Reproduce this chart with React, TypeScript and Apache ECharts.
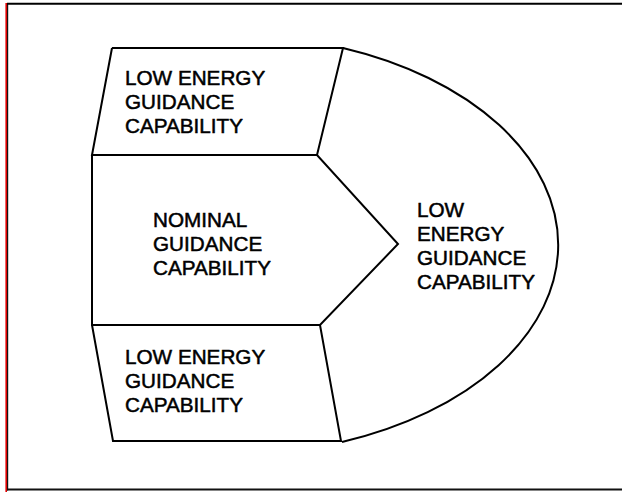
import React, { useEffect, useRef } from "react";
import * as echarts from "echarts";

// Diagram vertices (in picture units, y downward)
const topBox = [[112, 48], [343, 48], [317, 155], [92, 155], [112, 48]];
const nominalBox = [[92, 155], [317, 155], [398, 244], [320, 325], [92, 325], [92, 155]];
const bottomBox = [[92, 325], [320, 325], [341, 441], [113, 441], [92, 325]];
// Arc: start, end, radii
const arcStart = [343, 48];
const arcEnd = [342, 442];
const arcRadii = [330, 210];

const labelLines = [
  ["LOW ENERGY", "GUIDANCE", "CAPABILITY"],
  ["NOMINAL", "GUIDANCE", "CAPABILITY"],
  ["LOW", "ENERGY", "GUIDANCE", "CAPABILITY"],
  ["LOW ENERGY", "GUIDANCE", "CAPABILITY"],
];
const labelX = [125, 153, 417, 125];
const labelY = [78, 220, 210, 357];
const lineGap = 24;

const W = 622;
const H = 492;
const FONT = '20px "Liberation Sans", Arial, sans-serif';

export default function App() {
  const ref = useRef<HTMLDivElement>(null);
  useEffect(() => {
    document.body.style.margin = "0";
    if (!ref.current) return;
    const chart = echarts.init(ref.current, null, { renderer: "svg" });
    const outline = (data: number[][]) => ({
      type: "line",
      data,
      symbol: "none",
      silent: true,
      lineStyle: { color: "#000", width: 2, join: "miter" },
    });
    chart.setOption({
      animation: false,
      backgroundColor: "#fff",
      grid: { left: 0, right: 0, top: 0, bottom: 0 },
      xAxis: { type: "value", min: 0, max: W, show: false },
      yAxis: { type: "value", min: 0, max: H, inverse: true, show: false },
      graphic: [
        { type: "line", shape: { x1: 6.2, y1: 3, x2: 6.2, y2: 492 }, style: { stroke: "#e00000", lineWidth: 1.6 } },
        { type: "line", shape: { x1: 7.6, y1: 3, x2: 7.6, y2: 490.5 }, style: { stroke: "#111", lineWidth: 1.2 } },
        { type: "line", shape: { x1: 7, y1: 3.7, x2: 622, y2: 3.7 }, style: { stroke: "#000", lineWidth: 2 } },
        { type: "line", shape: { x1: 7, y1: 489.6, x2: 622, y2: 489.6 }, style: { stroke: "#111", lineWidth: 2 } },
      ],
      series: [
        outline(topBox),
        outline(nominalBox),
        outline(bottomBox),
        {
          type: "custom",
          coordinateSystem: "cartesian2d",
          silent: true,
          clip: false,
          data: [[arcStart[0], arcStart[1]]],
          renderItem: (params: any, api: any) => {
            const p0 = api.coord(arcStart);
            const p1 = api.coord(arcEnd);
            const r = api.size(arcRadii);
            return {
              type: "path",
              shape: {
                pathData: `M ${p0[0]} ${p0[1]} A ${r[0]} ${r[1]} 0 0 1 ${p1[0]} ${p1[1]}`,
              },
              style: { fill: "none", stroke: "#000", lineWidth: 2 },
            };
          },
        },
        {
          type: "custom",
          coordinateSystem: "cartesian2d",
          silent: true,
          clip: false,
          data: labelX.map((x, i) => [x, labelY[i]]),
          renderItem: (params: any, api: any) => {
            const i = params.dataIndex;
            const p = api.coord([labelX[i], labelY[i]]);
            const gap = api.size([0, lineGap])[1];
            return {
              type: "group",
              children: labelLines[i].map((t, k) => ({
                type: "text",
                x: p[0],
                y: p[1] + k * gap,
                scaleX: 1.035,
                style: {
                  text: t,
                  font: FONT,
                  fill: "#000",
                  stroke: "#000",
                  lineWidth: 0.5,
                  align: "left",
                  verticalAlign: "middle",
                },
              })),
            };
          },
        },
      ],
    });
    return () => chart.dispose();
  }, []);
  return <div ref={ref} style={{ width: W, height: H }} />;
}
